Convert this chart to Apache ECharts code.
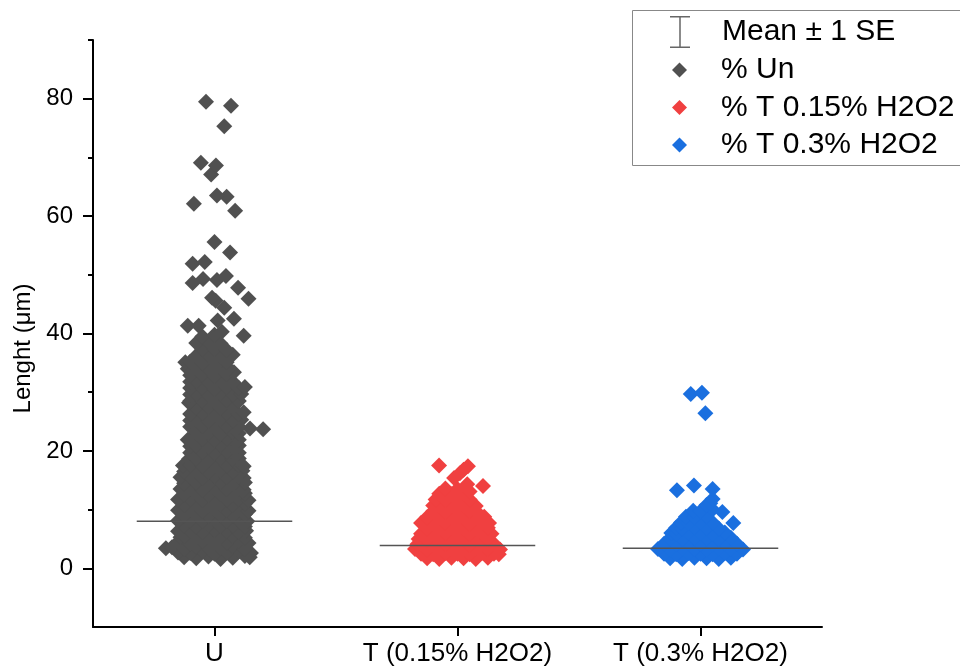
<!DOCTYPE html>
<html>
<head>
<meta charset="utf-8">
<script src="https://cdn.jsdelivr.net/npm/echarts@6/dist/echarts.min.js"></script>
<style>
  html, body { margin: 0; padding: 0; background: #fff; }
  #chart { width: 960px; height: 668px; }
</style>
</head>
<body>
<div id="chart"></div>
<script>
// categories on the x axis
const categories = ['U', 'T (0.15% H2O2)', 'T (0.3% H2O2)'];
const seriesNames = ['% Un', '% T 0.15% H2O2', '% T 0.3% H2O2'];
const yTicks = [0, 20, 40, 60, 80];
const yMinorTicks = [10, 30, 50, 70, 90];
// group means (horizontal bars)
const means = [8.0, 3.9, 3.4];

// points: [jitter from category centre, length in um]
const unPoints = [
  [-0.125,1.9],[-0.075,1.7],[-0.025,2.0],[0.025,1.6],[0.075,1.8],[0.125,2.1],[0.145,1.9],
  [-0.15,2.7],[-0.1,2.6],[-0.05,2.9],[0,2.5],[0.05,2.7],[0.1,3.0],[0.15,2.6],
  [-0.2,3.4],[-0.175,3.6],[-0.125,3.3],[-0.075,3.7],[-0.025,3.4],[0.025,3.5],[0.075,3.8],[0.125,3.3],
  [-0.15,4.5],[-0.1,4.2],[-0.05,4.6],[0,4.3],[0.05,4.4],[0.1,4.7],[0.14,4.3],
  [-0.14,5.3],[-0.125,5.5],[-0.075,5.2],[-0.025,5.6],[0.025,5.3],[0.075,5.5],[0.125,5.2],
  [-0.15,6.3],[-0.1,6.4],[-0.05,6.2],[0,6.5],[0.05,6.3],[0.1,6.2],[0.13,6.4],
  [-0.125,7.3],[-0.075,7.1],[-0.025,7.4],[0.025,7.2],[0.075,7.3],[0.125,7.1],
  [-0.15,8.1],[-0.1,8.2],[-0.05,8.0],[0,8.3],[0.05,8.1],[0.1,8.2],[0.135,8.0],
  [-0.125,9.0],[-0.075,9.2],[-0.025,8.9],[0.025,9.1],[0.075,9.0],[0.125,9.2],
  [-0.15,9.9],[-0.1,10.0],[-0.05,9.8],[0,10.1],[0.05,9.9],[0.1,10.0],[0.14,9.8],
  [-0.125,10.8],[-0.075,11.0],[-0.025,10.7],[0.025,10.9],[0.075,10.8],[0.125,11.0],
  [-0.15,11.7],[-0.1,11.8],[-0.05,11.6],[0,11.9],[0.05,11.7],[0.1,11.8],[0.14,11.6],
  [-0.125,12.6],[-0.075,12.8],[-0.025,12.5],[0.025,12.7],[0.075,12.6],[0.125,12.8],
  [-0.14,13.5],[-0.1,13.6],[-0.05,13.4],[0,13.7],[0.05,13.5],[0.1,13.6],[0.12,13.4],
  [-0.125,14.5],[-0.075,14.6],[-0.025,14.4],[0.025,14.7],[0.075,14.5],[0.125,14.6],
  [-0.14,15.5],[-0.1,15.6],[-0.05,15.4],[0,15.7],[0.05,15.5],[0.1,15.6],[0.12,15.4],
  [-0.125,16.5],[-0.075,16.6],[-0.025,16.4],[0.025,16.7],[0.075,16.5],[0.115,16.6],
  [-0.13,17.5],[-0.1,17.6],[-0.05,17.4],[0,17.7],[0.05,17.5],[0.1,17.6],[0.12,17.4],
  [-0.105,18.6],[-0.075,18.7],[-0.025,18.5],[0.025,18.8],[0.075,18.6],[0.1,18.7],
  [-0.1,19.7],[-0.05,19.8],[0,19.6],[0.05,19.9],[0.1,19.7],
  [-0.1,20.8],[-0.075,20.9],[-0.025,20.7],[0.025,21.0],[0.075,20.8],[0.1,20.9],
  [-0.11,21.9],[-0.05,22.0],[0,21.8],[0.05,22.1],[0.1,21.9],
  [-0.075,23.0],[-0.025,23.1],[0.025,22.9],[0.075,23.2],[0.1,23.0],[0.146,23.8],[0.2,23.7],
  [-0.1,24.1],[-0.05,24.2],[0,24.0],[0.05,24.3],[0.1,24.1],
  [-0.1,25.2],[-0.075,25.3],[-0.025,25.1],[0.025,25.4],[0.075,25.2],[0.11,25.3],
  [-0.1,26.3],[-0.05,26.4],[0,26.2],[0.05,26.5],[0.1,26.3],[0.12,26.6],
  [-0.075,27.4],[-0.025,27.5],[0.025,27.3],[0.075,27.6],[-0.105,28.2],
  [-0.1,28.5],[-0.05,28.6],[0,28.4],[0.05,28.7],[0.1,28.5],
  [-0.1,29.6],[-0.075,29.7],[-0.025,29.5],[0.025,29.8],[0.075,29.6],[0.11,29.7],
  [-0.1,30.7],[-0.05,30.8],[0,30.6],[0.05,30.9],[0.1,30.7],[0.125,30.9],
  [-0.1,31.8],[-0.075,31.9],[-0.025,31.7],[0.025,32.0],[0.075,31.8],
  [-0.1,32.9],[-0.05,33.0],[0,32.8],[0.05,33.1],[0.08,33.4],
  [-0.11,34.0],[-0.075,34.1],[-0.025,33.9],[0.025,34.2],[0.06,34.0],
  [-0.12,35.1],[-0.1,35.2],[-0.05,35.0],[0,35.3],[0.05,35.1],
  [-0.075,36.2],[-0.025,36.3],[0.025,36.1],[0.075,36.4],
  [-0.05,37.3],[0,37.4],[0.05,37.2],
  [-0.075,38.4],[-0.025,38.5],[0.025,38.3],
  [-0.05,39.5],[0,39.8],[0.03,40.3],
  // sparse upper tail
  [-0.11,41.3],[-0.065,41.3],[0.013,42.2],[0.08,42.5],[0.12,39.6],
  [0.04,44.4],[0.005,45.6],[-0.01,46.1],[0.14,45.9],[0.097,47.8],
  [-0.09,48.6],[-0.047,49.3],[0.01,49.1],[0.047,49.8],
  [-0.09,51.9],[-0.04,52.2],[0.064,53.8],[0,55.6],
  [0.085,60.9],[-0.085,62.1],[0.05,63.3],[0.01,63.5],
  [-0.014,67.1],[0.006,68.6],[-0.056,69.1],
  [0.04,75.3],[0.068,78.8],[-0.035,79.5]
];

const t015Points = [
  [-0.125,1.7],[-0.075,1.6],[-0.025,1.8],[0.025,1.7],[0.075,1.6],[0.125,1.8],
  [-0.15,2.5],[-0.1,2.4],[-0.05,2.6],[0,2.5],[0.05,2.4],[0.1,2.6],[0.15,2.5],[0.17,2.4],
  [-0.175,3.3],[-0.125,3.2],[-0.075,3.4],[-0.025,3.3],[0.025,3.2],[0.075,3.4],[0.125,3.3],[0.175,3.2],
  [-0.165,4.1],[-0.15,4.2],[-0.1,4.0],[-0.05,4.1],[0,4.2],[0.05,4.0],[0.1,4.1],[0.15,4.2],
  [-0.16,5.0],[-0.125,4.9],[-0.075,5.1],[-0.025,5.0],[0.025,4.9],[0.075,5.1],[0.125,5.0],
  [-0.15,5.9],[-0.1,5.8],[-0.05,6.0],[0,5.9],[0.05,5.8],[0.1,6.0],[0.14,5.9],
  [-0.125,6.8],[-0.075,6.7],[-0.025,6.9],[0.025,6.8],[0.075,6.7],[0.125,6.9],
  [-0.15,7.7],[-0.1,7.6],[-0.05,7.8],[0,7.7],[0.05,7.6],[0.1,7.8],[0.13,7.7],
  [-0.125,8.7],[-0.075,8.6],[-0.025,8.8],[0.025,8.7],[0.075,8.6],[0.11,8.8],
  [-0.1,9.7],[-0.05,9.6],[0,9.8],[0.05,9.7],[0.08,9.6],
  [-0.1,10.7],[-0.075,10.6],[-0.025,10.8],[0.025,10.7],[0.075,10.6],
  [-0.09,11.7],[-0.05,11.6],[0,11.8],[0.05,11.7],
  [-0.075,12.7],[-0.025,12.6],[0.025,12.8],[0.05,13.1],
  [-0.05,13.6],[0,13.5],
  [0.105,14.0],[0.04,14.3],[-0.014,15.4],[0.01,16.2],[0.025,16.8],[0.043,17.4],[-0.076,17.5]
];

const t03Points = [
  [-0.125,1.7],[-0.075,1.6],[-0.025,1.8],[0.025,1.7],[0.075,1.6],[0.125,1.8],
  [-0.15,2.5],[-0.1,2.4],[-0.05,2.6],[0,2.5],[0.05,2.4],[0.1,2.6],[0.15,2.5],
  [-0.175,3.3],[-0.125,3.2],[-0.075,3.4],[-0.025,3.3],[0.025,3.2],[0.075,3.4],[0.125,3.3],[0.175,3.2],
  [-0.15,4.2],[-0.1,4.1],[-0.05,4.3],[0,4.2],[0.05,4.1],[0.1,4.3],[0.15,4.2],
  [-0.125,5.1],[-0.075,5.0],[-0.025,5.2],[0.025,5.1],[0.075,5.0],[0.125,5.2],
  [-0.12,6.0],[-0.1,5.9],[-0.05,6.1],[0,6.0],[0.05,5.9],[0.1,6.1],
  [-0.1,6.9],[-0.075,6.8],[-0.025,7.0],[0.025,6.9],[0.075,6.8],
  [-0.08,7.8],[-0.05,7.7],[0,7.9],[0.05,7.8],
  [-0.06,8.8],[-0.025,8.7],[0.025,8.9],
  [-0.03,9.8],[0,9.7],[0.05,10.0],
  [0.025,10.8],[0.04,11.1],
  [0.135,7.7],[0.09,9.6],[0.05,11.8],
  [-0.097,13.3],[0.05,13.5],[-0.027,14.1],
  [0.02,26.4],[-0.04,29.7],[0.006,29.9]
];

const colors = ['#505050', '#f04040', '#1a6fdf'];
const FONT = '"Liberation Sans", Arial, sans-serif';

let chart = echarts.init(document.getElementById('chart'));

let groups = [unPoints, t015Points, t03Points];
let series = [];
groups.forEach((pts, i) => {
  series.push({
    name: seriesNames[i],
    type: 'scatter',
    symbol: 'diamond',
    symbolSize: 16,
    itemStyle: { color: colors[i], opacity: 1 },
    data: pts.map(p => [i + 0.5 + p[0], p[1]]),
    z: 2
  });
});
// mean bars, one short line per group (same name so the legend merges them)
means.forEach((m, i) => {
  series.push({
    name: 'Mean ± 1 SE',
    type: 'line',
    showSymbol: false,
    silent: true,
    itemStyle: { color: '#666' },
    lineStyle: { color: '#555', width: 1.5 },
    data: [[i + 0.18, m], [i + 0.82, m]],
    z: 5
  });
});

let option = {
  animation: false,
  grid: { left: 93, right: 138, top: 40, bottom: 41 },
  xAxis: {
    type: 'value',
    min: 0,
    max: 3,
    splitLine: { show: false },
    axisLine: { onZero: false, lineStyle: { color: '#000', width: 2 } },
    axisTick: { customValues: [0.5, 1.5, 2.5], length: 9, lineStyle: { color: '#000', width: 2 } },
    axisLabel: {
      customValues: [0.5, 1.5, 2.5],
      formatter: v => categories[Math.floor(v)],
      fontSize: 26, color: '#000', fontFamily: FONT, margin: 14
    }
  },
  yAxis: [{
    type: 'value',
    min: -10,
    max: 90,
    name: 'Lenght (μm)',
    nameLocation: 'middle',
    nameGap: 56,
    nameTextStyle: { fontSize: 24, color: '#000', fontFamily: FONT, padding: [0, 30, 0, 0] },
    splitLine: { show: false },
    axisLine: { onZero: false, lineStyle: { color: '#000', width: 2 } },
    axisTick: { customValues: yTicks, length: 10, lineStyle: { color: '#000', width: 2 } },
    axisLabel: { customValues: yTicks, fontSize: 24, color: '#000', fontFamily: FONT, margin: 20 }
  }, {
    // minor ticks only
    type: 'value',
    position: 'left',
    min: -10,
    max: 90,
    splitLine: { show: false },
    axisLine: { show: false, onZero: false },
    axisTick: { customValues: yMinorTicks, length: 5, lineStyle: { color: '#000', width: 2 } },
    axisLabel: { show: false }
  }],
  legend: [{
    data: ['Mean ± 1 SE'],
    left: 670,
    top: 16,
    padding: 0,
    selectedMode: false,
    itemWidth: 20,
    itemHeight: 32,
    icon: 'path://M0,0h20v1.5h-20z M9.25,0h1.5v32h-1.5z M0,30.5h20v1.5h-20z',
    textStyle: { fontSize: 30, color: '#000', fontFamily: FONT, padding: [0, 0, 0, 27] }
  }, {
    data: seriesNames,
    orient: 'vertical',
    left: 672,
    top: 55,
    padding: 0,
    itemGap: 7.5,
    selectedMode: false,
    itemWidth: 15,
    itemHeight: 15,
    icon: 'diamond',
    textStyle: { fontSize: 30, lineHeight: 30, color: '#000', fontFamily: FONT, padding: [0, 0, 0, 29] }
  }],
  graphic: [{
    type: 'rect',
    left: 630,
    top: 8,
    shape: { width: 360, height: 155 },
    style: { fill: 'none', stroke: '#888', lineWidth: 1 },
    silent: true
  }],
  series: series
};
chart.setOption(option);
</script>
</body>
</html>
